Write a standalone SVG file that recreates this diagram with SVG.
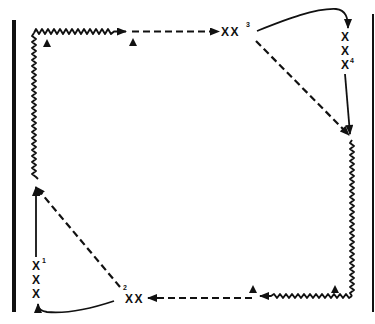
<svg xmlns="http://www.w3.org/2000/svg" width="375" height="324" viewBox="0 0 375 324">
<style>
.ln{fill:none;stroke:#111;stroke-width:1.8;stroke-linejoin:miter}
.ds{fill:none;stroke:#111;stroke-width:2.2;stroke-dasharray:7 4}
.zz{fill:none;stroke:#111;stroke-width:1.9;stroke-linejoin:round}
.x{font-family:"Liberation Sans",Arial,sans-serif;font-size:12px;font-weight:bold;fill:#111}
.s{font-family:"Liberation Sans",Arial,sans-serif;font-size:7px;font-weight:bold;fill:#111}
.tri{fill:#111}
</style>
<defs>
<marker id="ah" viewBox="0 0 10 8" refX="9" refY="4" markerWidth="11" markerHeight="8" markerUnits="userSpaceOnUse" orient="auto">
<path d="M0,0 L10,4 L0,8 Z" fill="#111"/>
</marker>
</defs>
<rect width="375" height="324" fill="#fff"/>
<g id="walls">
<rect x="12" y="20" width="4" height="292" fill="#111"/>
<rect x="372" y="14" width="2" height="298" fill="#111"/>
</g>
<g id="connectors">
<path class="zz" d="M34,33 l2,-4 l3,5 l3,-5 l3,5 l3,-5 l3,5 l3,-5 l3,5 l3,-5 l3,5 l3,-5 l3,5 l3,-5 l3,5 l3,-5 l3,5 l3,-5 l3,5 l3,-5 l3,5 l3,-5 l3,5 l3,-5 l3,5 l3,-5 l3,5 l3,-2.5 l12,0" marker-end="url(#ah)"/>
<path class="ds" d="M132,31.5 L219,31.5" marker-end="url(#ah)"/>
<path class="zz" d="M34,33 l-2,3 l4,3 l-4,3 l4,3 l-4,3 l4,3 l-4,3 l4,3 l-4,3 l4,3 l-4,3 l4,3 l-4,3 l4,3 l-4,3 l4,3 l-4,3 l4,3 l-4,3 l4,3 l-4,3 l4,3 l-4,3 l4,3 l-4,3 l4,3 l-4,3 l4,3 l-4,3 l4,3 l-4,3 l4,3 l-4,3 l4,3 l-4,3 l4,3 l-4,3 l4,3 l-4,3 l4,3 l-4,3 l4,3 l-4,3 l4,3 l-4,3 l4,3 l-4,3 l4,3 l2,2"/>
<path class="ln" d="M257,31 C285,20 315,8 336,9 C346,10 348,18 348,28" marker-end="url(#ah)"/>
<path class="ds" d="M256,41 L349,135" marker-end="url(#ah)"/>
<path class="ln" d="M345,74 L350,134" marker-end="url(#ah)"/>
<path class="zz" d="M352,140 l-2,3 l4,3 l-4,3 l4,3 l-4,3 l4,3 l-4,3 l4,3 l-4,3 l4,3 l-4,3 l4,3 l-4,3 l4,3 l-4,3 l4,3 l-4,3 l4,3 l-4,3 l4,3 l-4,3 l4,3 l-4,3 l4,3 l-4,3 l4,3 l-4,3 l4,3 l-4,3 l4,3 l-4,3 l4,3 l-4,3 l4,3 l-4,3 l4,3 l-4,3 l4,3 l-4,3 l4,3 l-4,3 l4,3 l-4,3 l4,3 l-4,3 l4,3 l-4,3 l4,3 l-4,3 l4,3 l-4,3 l2,3"/>
<path class="zz" d="M352,296 l-3,2 l-3,-4 l-3,4 l-3,-4 l-3,4 l-3,-4 l-3,4 l-3,-4 l-3,4 l-3,-4 l-3,4 l-3,-4 l-3,4 l-3,-4 l-3,4 l-3,-4 l-3,4 l-3,-4 l-3,4 l-3,-4 l-3,4 l-3,-4 l-3,4 l-3,-4 l-3,4 l-3,-4 l-3,2 l-11,0" marker-end="url(#ah)"/>
<path class="ds" d="M252,298 L148,298" marker-end="url(#ah)"/>
<path class="ds" d="M120,287 L36,187" marker-end="url(#ah)"/>
<path class="ln" d="M36,257 L36,187" marker-end="url(#ah)"/>
<path class="ln" d="M114,301 C90,309 68,314 47,312 C40,311 38,308 38,304" marker-end="url(#ah)"/>
</g>
<g id="cones">
<path class="tri" d="M43,47 L47,39 L51,47 Z"/>
<path class="tri" d="M129,46 L133,38 L137,46 Z"/>
<path class="tri" d="M249,293 L253,285 L257,293 Z"/>
<path class="tri" d="M331,293 L335,285 L339,293 Z"/>
</g>
<g id="node-xx3">
<text class="x" x="221" y="36" letter-spacing="1.5">XX</text>
<text class="s" x="246" y="27">3</text>
</g>
<g id="node-xxx4">
<text class="x" x="341" y="41">X</text>
<text class="x" x="341" y="55">X</text>
<text class="x" x="341" y="69">X</text>
<text class="s" x="350" y="63">4</text>
</g>
<g id="node-xx2">
<text class="x" x="125" y="303" letter-spacing="1.5">XX</text>
<text class="s" x="123" y="290">2</text>
</g>
<g id="node-xxx1">
<text class="x" x="32" y="270">X</text>
<text class="x" x="32" y="284">X</text>
<text class="x" x="32" y="298">X</text>
<text class="s" x="42" y="263">1</text>
</g>
</svg>
